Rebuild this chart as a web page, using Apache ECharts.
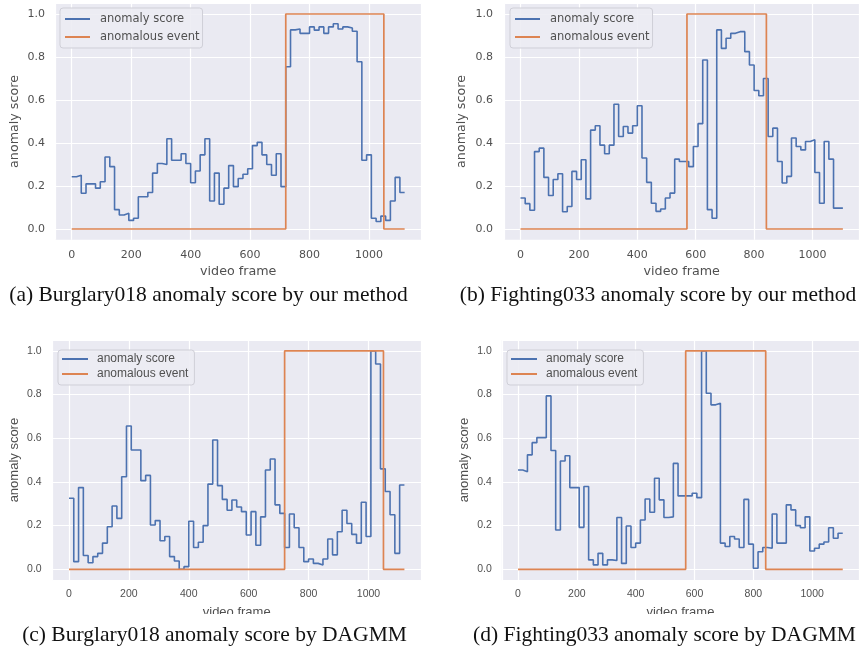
<!DOCTYPE html>
<html>
<head>
<meta charset="utf-8">
<script src="https://cdn.jsdelivr.net/npm/echarts@6/dist/echarts.min.js"></script>
<style>
html,body{margin:0;padding:0;background:#fff;}
#chart{width:859px;height:648px;}
</style>
</head>
<body>
<div id="chart"></div>
<script>
// ---- data ----
const SEGMENT_FRAMES = 16;
// (a) Burglary018, our method
const scoreA = [0.243,0.25,0.166,0.21,0.21,0.19,0.22,0.335,0.29,0.09,
  0.065,0.073,0.04,0.05,0.15,0.15,0.17,0.26,0.305,0.30,
  0.42,0.32,0.32,0.35,0.305,0.215,0.27,0.345,0.42,0.13,
  0.26,0.115,0.19,0.295,0.197,0.235,0.255,0.28,0.388,0.403,
  0.345,0.30,0.25,0.35,0.197,0.755,0.926,0.93,0.91,0.91,
  0.94,0.925,0.94,0.91,0.94,0.955,0.93,0.94,0.935,0.92,
  0.778,0.32,0.345,0.05,0.035,0.06,0.04,0.13,0.24,0.17];
// (b) Fighting033, our method
const scoreB = [0.144,0.118,0.087,0.36,0.376,0.24,0.156,0.23,0.257,0.08,
  0.105,0.268,0.23,0.322,0.14,0.46,0.48,0.39,0.35,0.39,
  0.58,0.43,0.477,0.446,0.48,0.573,0.33,0.217,0.12,0.082,
  0.093,0.144,0.167,0.325,0.314,0.314,0.29,0.384,0.49,0.786,
  0.09,0.05,0.926,0.84,0.887,0.91,0.918,0.918,0.825,0.763,
  0.644,0.62,0.70,0.43,0.469,0.314,0.214,0.245,0.423,0.384,
  0.368,0.407,0.415,0.263,0.12,0.407,0.325,0.097,0.097];
// (c) Burglary018, DAGMM
const scoreC = [0.325,0.035,0.374,0.063,0.03,0.058,0.073,0.12,0.195,0.29,
  0.233,0.424,0.656,0.546,0.546,0.406,0.43,0.203,0.223,0.131,
  0.15,0.058,0.038,0.0,0.012,0.22,0.10,0.124,0.2,0.39,
  0.592,0.383,0.32,0.27,0.317,0.285,0.264,0.157,0.264,0.11,
  0.24,0.455,0.505,0.295,0.256,0.1,0.253,0.19,0.1,0.035,
  0.047,0.027,0.02,0.047,0.139,0.066,0.172,0.27,0.21,0.16,
  0.12,0.307,0.15,1.0,0.94,0.46,0.356,0.25,0.073,0.386];
// (d) Fighting033, DAGMM
const scoreD = [0.455,0.447,0.524,0.58,0.603,0.603,0.794,0.544,0.18,0.496,
  0.52,0.374,0.374,0.192,0.379,0.043,0.02,0.073,0.02,0.043,
  0.04,0.237,0.027,0.198,0.1,0.12,0.226,0.322,0.261,0.417,
  0.318,0.237,0.24,0.485,0.336,0.336,0.336,0.348,0.328,1.0,
  0.806,0.753,0.76,0.12,0.104,0.15,0.139,0.1,0.32,0.115,
  0.005,0.08,0.1,0.096,0.253,0.12,0.12,0.295,0.272,0.2,
  0.19,0.24,0.084,0.096,0.115,0.125,0.19,0.142,0.165];
// anomalous event: [start frame, end frame, video length]
const eventBurglary = [720, 1050, 1120];
const eventFighting = [570, 842, 1104];
const seriesNames = ['anomaly score', 'anomalous event'];
const captions = [
  '(a) Burglary018 anomaly score by our method',
  '(b) Fighting033 anomaly score by our method',
  '(c) Burglary018 anomaly score by DAGMM',
  '(d) Fighting033 anomaly score by DAGMM'
];
const xAxisTitle = 'video frame';
const yAxisTitle = 'anomaly score';

// ---- helpers ----
function stepPoints(values) {
  const pts = values.map((v, i) => [i * SEGMENT_FRAMES, v]);
  pts.push([values.length * SEGMENT_FRAMES, values[values.length - 1]]);
  return pts;
}
function eventPoints(ev) {
  return [[0, 0], [ev[0], 1], [ev[1], 0], [ev[2], 0]];
}

const BLUE = '#4C72B0', ORANGE = '#DD8452', BG = '#EAEAF2', TXT = '#505050';

const panels = [
  {score: scoreA, ev: eventBurglary, grid: {left: 55.1, top: 3.25, width: 366.2, height: 236.5},
   xr: [-56, 1176], font: 'DejaVu Sans', tick: 11, name: 12.7, leg: 11.5, yGap: 33.5, yMargin: 10, xMargin: 9.5, xGap: 25,
   legend: {left: 60, top: 8, padding: [4, 3, 4, 5], lineHeight: 14, itemGap: 4, textPad: 5, w: 25}},
  {score: scoreB, ev: eventFighting, grid: {left: 504.4, top: 3.25, width: 365.2, height: 236.5},
   xr: [-55.2, 1159.2], font: 'DejaVu Sans', tick: 11, name: 12.7, leg: 11.5, yGap: 36, yMargin: 11.4, xMargin: 9.5, xGap: 25,
   legend: {left: 510, top: 8, padding: [4, 3, 4, 5], lineHeight: 14, itemGap: 4, textPad: 5, w: 25}},
  {score: scoreC, ev: eventBurglary, grid: {left: 52.2, top: 340, width: 369, height: 240.2},
   xr: [-56, 1176], font: 'Liberation Sans', tick: 10.5, name: 13, leg: 12, yGap: 31.5, yMargin: 10.5, xMargin: 8.3, xGap: 26,
   legend: {left: 58, top: 350, padding: [2.5, 6, 4.5, 4], lineHeight: 13, itemGap: 2, textPad: 4, w: 26}},
  {score: scoreD, ev: eventFighting, grid: {left: 501.8, top: 340, width: 367.5, height: 240.2},
   xr: [-55.2, 1159.2], font: 'Liberation Sans', tick: 10.5, name: 13, leg: 12, yGap: 31, yMargin: 10, xMargin: 8.3, xGap: 26,
   legend: {left: 507, top: 350, padding: [2.5, 6, 4.5, 4], lineHeight: 13, itemGap: 2, textPad: 4, w: 26}}
];

const option = {
  animation: false,
  backgroundColor: '#ffffff',
  grid: [], xAxis: [], yAxis: [], series: [], legend: [],
  graphic: []
};

panels.forEach((p, i) => {
  option.grid.push(Object.assign({show: true, backgroundColor: BG, borderWidth: 0, containLabel: false}, p.grid));
  option.xAxis.push({
    type: 'value', gridIndex: i, min: p.xr[0], max: p.xr[1], splitNumber: 5,
    axisLine: {show: false}, axisTick: {show: false},
    splitLine: {show: true, lineStyle: {color: '#ffffff', width: 1.2}},
    axisLabel: {show: true, interval: 0, showMinLabel: false, showMaxLabel: false, margin: p.xMargin,
      color: TXT, fontFamily: p.font, fontSize: p.tick,
      formatter: v => String(Math.round(v))},
    name: xAxisTitle, nameLocation: 'middle', nameGap: p.xGap,
    nameTextStyle: {color: TXT, fontFamily: p.font, fontSize: p.name}
  });
  option.yAxis.push({
    type: 'value', gridIndex: i, min: -0.05, max: 1.05, splitNumber: 5,
    axisLine: {show: false}, axisTick: {show: false},
    splitLine: {show: true, lineStyle: {color: '#ffffff', width: 1.2}},
    axisLabel: {show: true, interval: 0, showMinLabel: false, showMaxLabel: false, margin: p.yMargin,
      color: TXT, fontFamily: p.font, fontSize: p.tick,
      formatter: v => v.toFixed(1)},
    name: yAxisTitle, nameLocation: 'middle', nameGap: p.yGap,
    nameTextStyle: {color: TXT, fontFamily: p.font, fontSize: p.name}
  });
  option.series.push({
    type: 'line', name: seriesNames[0], xAxisIndex: i, yAxisIndex: i,
    data: stepPoints(p.score), step: 'end', showSymbol: false, symbol: 'none',
    lineStyle: {color: BLUE, width: 1.6}, itemStyle: {color: BLUE}, z: 2
  });
  option.series.push({
    type: 'line', name: seriesNames[1], xAxisIndex: i, yAxisIndex: i,
    data: eventPoints(p.ev), step: 'end', showSymbol: false, symbol: 'none',
    lineStyle: {color: ORANGE, width: 1.7}, itemStyle: {color: ORANGE}, z: 3
  });
  const L = p.legend;
  option.legend.push({
    data: seriesNames, orient: 'vertical', left: L.left, top: L.top,
    padding: L.padding, itemGap: L.itemGap, itemWidth: L.w, itemHeight: 2,
    icon: 'rect', selectedMode: false,
    backgroundColor: 'rgba(236,236,243,0.9)', borderColor: '#cfcfd7', borderWidth: 1, borderRadius: 3,
    textStyle: {color: TXT, fontFamily: p.font, fontSize: p.leg, lineHeight: L.lineHeight, padding: [0, 0, 0, L.textPad]}
  });
});

// white strip that hides the lower part of the bottom-row axis titles (as in the cropped figure)
option.graphic.push({type: 'rect', z: 100, silent: true,
  shape: {x: 0, y: 614, width: 859, height: 34}, style: {fill: '#ffffff'}});
const capPos = [[208.5, 295], [658, 295], [214.5, 635], [664.5, 635]];
captions.forEach((c, i) => {
  option.graphic.push({type: 'text', z: 101, silent: true, x: capPos[i][0], y: capPos[i][1],
    style: {text: c, fill: '#111111', font: '21.5px "Liberation Serif"', align: 'center', verticalAlign: 'middle'}});
});

const chart = echarts.init(document.getElementById('chart'), null, {renderer: 'canvas'});
chart.setOption(option);
</script>
</body>
</html>
